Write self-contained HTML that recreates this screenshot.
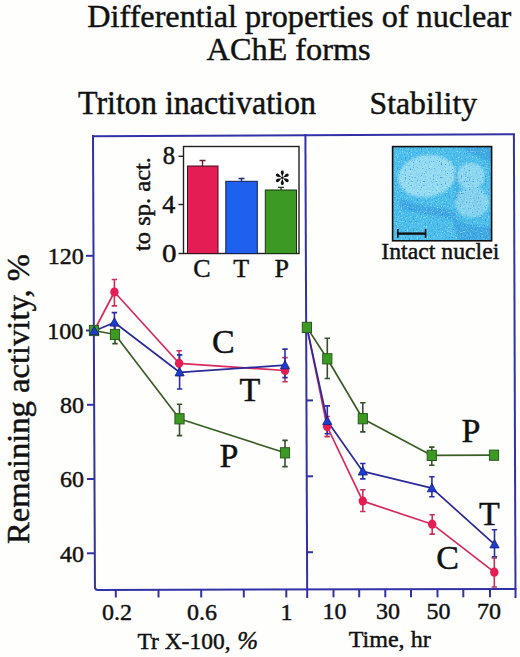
<!DOCTYPE html>
<html><head><meta charset="utf-8"><style>
html,body{margin:0;padding:0;background:#fefefd;}
svg{display:block;}
text{font-family:"Liberation Serif",serif;fill:#111;stroke:#111;stroke-width:0.45px;}
</style></head><body>
<svg width="520" height="657" viewBox="0 0 520 657">
<defs>
<filter id="noise" x="0" y="0" width="100%" height="100%">
<feTurbulence type="fractalNoise" baseFrequency="0.75" numOctaves="1" seed="3" result="n"/>
<feColorMatrix in="n" type="matrix" values="0 0 0 0 0  0 0 0 0 0  0 0 0 0 0  -5 0 0 0 2.0" result="d"/>
<feComposite in="SourceGraphic" in2="d" operator="in"/>
</filter>
<filter id="noise2" x="0" y="0" width="100%" height="100%">
<feTurbulence type="fractalNoise" baseFrequency="0.8" numOctaves="1" seed="11" result="n"/>
<feColorMatrix in="n" type="matrix" values="0 0 0 0 0  0 0 0 0 0  0 0 0 0 0  0 4 0 0 -2.1" result="d"/>
<feComposite in="SourceGraphic" in2="d" operator="in"/>
</filter>
<filter id="blur2"><feGaussianBlur stdDeviation="1.3"/></filter>
<clipPath id="mclip"><rect x="392" y="146" width="100" height="95"/></clipPath>
</defs>
<rect width="520" height="657" fill="#fefefd"/>

<!-- Titles -->
<text x="87.3" y="27" font-size="32.3" textLength="424" lengthAdjust="spacingAndGlyphs">Differential properties of nuclear</text>
<text x="206.6" y="60.3" font-size="32.5" textLength="164" lengthAdjust="spacingAndGlyphs">AChE forms</text>
<text x="78" y="114.3" font-size="33" textLength="238" lengthAdjust="spacingAndGlyphs">Triton inactivation</text>
<text x="369.6" y="113.8" font-size="32.5" textLength="107.5" lengthAdjust="spacingAndGlyphs">Stability</text>

<!-- Y axis title -->
<text transform="translate(29,544) rotate(-90)" x="0" y="0" font-size="32" textLength="290" lengthAdjust="spacingAndGlyphs">Remaining activity, %</text>

<!-- Frame -->
<g stroke="#3232a6" stroke-width="2" fill="none" stroke-linecap="square" stroke-linejoin="round">
<line x1="93" y1="136.2" x2="514" y2="134.3"/>
<path d="M93 136 L94.95 587 Q95 589.9 97.8 589.9 L515.5 589.1"/>
<line x1="513.9" y1="136" x2="515.5" y2="597"/>
<line x1="305.4" y1="135" x2="307.2" y2="597"/>
</g>
<!-- left y ticks -->
<g stroke="#3232a6" stroke-width="2">
<line x1="86" y1="255.8" x2="93" y2="255.8"/>
<line x1="86" y1="330.5" x2="93" y2="330.5"/>
<line x1="87" y1="404.8" x2="94" y2="404.8"/>
<line x1="87" y1="479" x2="94" y2="479"/>
<line x1="87" y1="553.3" x2="94.5" y2="553.3"/>
<!-- right panel y ticks (inward) -->
<line x1="306" y1="327" x2="312" y2="327"/>
<line x1="306.2" y1="400.4" x2="313" y2="400.4"/>
<line x1="306.5" y1="476.3" x2="313" y2="476.3"/>
<line x1="306.8" y1="552.2" x2="313" y2="552.2"/>
<!-- left x ticks -->
<line x1="115.8" y1="589.5" x2="115.8" y2="597.5"/>
<line x1="158.5" y1="589.5" x2="158.5" y2="597.5"/>
<line x1="201.2" y1="589.5" x2="201.2" y2="597.5"/>
<line x1="243.8" y1="589.3" x2="243.8" y2="597.5"/>
<line x1="286.3" y1="589.2" x2="286.3" y2="597.5"/>
<!-- right x ticks -->
<line x1="333.5" y1="589" x2="333.5" y2="597.3"/>
<line x1="359.2" y1="589" x2="359.2" y2="597.3"/>
<line x1="385.3" y1="589" x2="385.3" y2="597.3"/>
<line x1="411" y1="589" x2="411" y2="597.3"/>
<line x1="437.5" y1="589" x2="437.5" y2="597.3"/>
<line x1="463.3" y1="589" x2="463.3" y2="597.3"/>
<line x1="490" y1="589" x2="490" y2="597.3"/>
</g>

<!-- Y tick labels -->
<g font-size="24">
<text x="47.8" y="264">120</text>
<text x="47.3" y="338.8">100</text>
<text x="60" y="412.5">80</text>
<text x="60" y="487.2">60</text>
<text x="60" y="561.5">40</text>
<!-- X tick labels -->
<text x="102" y="619.6">0.2</text>
<text x="187" y="619.6">0.6</text>
<text x="280.5" y="619.6">1</text>
<text x="322.5" y="619.4">10</text>
<text x="376" y="619.4">30</text>
<text x="426.5" y="619.4">50</text>
<text x="477" y="619.4">70</text>
<!-- axis titles -->
<text x="137.5" y="648.5" textLength="93" lengthAdjust="spacingAndGlyphs">Tr X-100,</text><text x="237.3" y="648.5" font-style="italic" font-size="25">%</text>
<text x="348.7" y="647.3" textLength="82" lengthAdjust="spacingAndGlyphs">Time, hr</text>
</g>

<!-- Series labels -->
<g font-size="34">
<text x="212" y="352.7">C</text>
<text x="239.5" y="400.5">T</text>
<text x="219.5" y="466.7">P</text>
<text x="461.6" y="442.4">P</text>
<text x="479" y="524.5">T</text>
<text x="436.3" y="569.3">C</text>
</g>

<!-- Inset bar chart -->
<g>
<rect x="183.5" y="146.5" width="115.5" height="107" fill="#fff" stroke="#222" stroke-width="1.4"/>
<g stroke="#222" stroke-width="1.4">
<line x1="178.5" y1="156.3" x2="183.5" y2="156.3"/>
<line x1="178.5" y1="204.5" x2="183.5" y2="204.5"/>
<line x1="178.5" y1="253.5" x2="183.5" y2="253.5"/>
</g>
<rect x="187.5" y="166" width="30.5" height="87.5" fill="#e41d55" stroke="#3a1020" stroke-width="1"/>
<rect x="225.8" y="181.3" width="31.5" height="72.2" fill="#1f60ee" stroke="#102050" stroke-width="1"/>
<rect x="265.3" y="190" width="31.2" height="63.5" fill="#3c9a24" stroke="#1a3010" stroke-width="1"/>
<g stroke-width="1.4" fill="none">
<path d="M202.5 166 V160.5 M199.5 160.5 H205.5" stroke="#6a2030"/>
<path d="M241.5 181.3 V178.5 M238.5 178.5 H244.5" stroke="#202a60"/>
<path d="M281 190 V187.4 M278 187.4 H284" stroke="#2a3a20"/>
</g>
<g transform="translate(282.3,177.8)" fill="#111"><path transform="rotate(0)" d="M0,-1 L-0.9,-3.2 C-2.1,-5.2 -1.6,-7.2 0,-7.2 C1.6,-7.2 2.1,-5.2 0.9,-3.2 Z"/><path transform="rotate(60)" d="M0,-1 L-0.9,-3.2 C-2.1,-5.2 -1.6,-7.2 0,-7.2 C1.6,-7.2 2.1,-5.2 0.9,-3.2 Z"/><path transform="rotate(120)" d="M0,-1 L-0.9,-3.2 C-2.1,-5.2 -1.6,-7.2 0,-7.2 C1.6,-7.2 2.1,-5.2 0.9,-3.2 Z"/><path transform="rotate(180)" d="M0,-1 L-0.9,-3.2 C-2.1,-5.2 -1.6,-7.2 0,-7.2 C1.6,-7.2 2.1,-5.2 0.9,-3.2 Z"/><path transform="rotate(240)" d="M0,-1 L-0.9,-3.2 C-2.1,-5.2 -1.6,-7.2 0,-7.2 C1.6,-7.2 2.1,-5.2 0.9,-3.2 Z"/><path transform="rotate(300)" d="M0,-1 L-0.9,-3.2 C-2.1,-5.2 -1.6,-7.2 0,-7.2 C1.6,-7.2 2.1,-5.2 0.9,-3.2 Z"/><circle r="1.3"/></g>
<g font-size="25">
<text x="162.8" y="164" textLength="12.3" lengthAdjust="spacingAndGlyphs">8</text>
<text x="162.3" y="213.3" textLength="13" lengthAdjust="spacingAndGlyphs">4</text>
<text x="162" y="261.8" textLength="14.5" lengthAdjust="spacingAndGlyphs">0</text>
</g>
<g font-size="26">
<text x="193.2" y="277.2">C</text>
<text x="233.2" y="277.2">T</text>
<text x="274.6" y="277.2">P</text>
</g>
<text transform="translate(150,251) rotate(-90)" font-size="23" textLength="94" lengthAdjust="spacingAndGlyphs">to sp. act.</text>
</g>

<!-- Micrograph inset -->
<g>
<g clip-path="url(#mclip)">
<rect x="392" y="146" width="100" height="95" fill="#48bcea"/>
<g filter="url(#blur2)">
<path d="M455 146 L492 146 L492 165 C 480 158, 468 150, 455 146 Z" fill="#3aa8e4"/>
<path d="M400 198 C 420 208, 440 205, 455 212 L 458 222 C 440 215, 420 215, 400 208 Z" fill="#3aa6e2"/>
<path d="M452 215 C 462 225, 478 228, 492 226 L492 241 L458 241 Z" fill="#3aa6e2"/>
<ellipse cx="427" cy="176" rx="29" ry="21" fill="#92daf2" transform="rotate(-10 427 176)"/>
<ellipse cx="471" cy="176" rx="14" ry="13" fill="#8ad6f0"/>
<ellipse cx="472" cy="202" rx="17" ry="15.5" fill="#82d2ee"/>
<path d="M455 172 C 457 182, 458 190, 456 200" stroke="#3aa0e0" stroke-width="2" fill="none"/>
</g>
<rect x="392" y="146" width="100" height="95" fill="#2a86d2" filter="url(#noise)"/>
<rect x="392" y="146" width="100" height="95" fill="#c8f4fc" filter="url(#noise2)" opacity="0.6"/>
</g>
<rect x="392.6" y="146.6" width="99" height="94.2" fill="none" stroke="#111" stroke-width="1.6"/>
<line x1="397.3" y1="233.6" x2="426" y2="233.6" stroke="#111" stroke-width="2.4"/>
<g stroke="#111" stroke-width="1.6">
<line x1="397.8" y1="229" x2="397.8" y2="237.8"/>
<line x1="425.6" y1="229" x2="425.6" y2="237.8"/>
</g>
<text x="381.3" y="258.8" font-size="24" textLength="118" lengthAdjust="spacingAndGlyphs">Intact nuclei</text>
</g>

<!-- DATA START -->
<!-- left panel -->
<g stroke-width="1.6" fill="none"><g stroke="#33502a"><path d="M115 325.4 V343.6 M112.3 325.4 H117.7 M112.3 343.6 H117.7"/><path d="M179.5 404.2 V435.6 M176.8 404.2 H182.2 M176.8 435.6 H182.2"/><path d="M285 440.4 V466.6 M282.3 440.4 H287.7 M282.3 466.6 H287.7"/></g><g stroke="#c83058"><path d="M114.4 279.5 V305.9 M111.7 279.5 H117.1 M111.7 305.9 H117.1"/><path d="M179.1 350.7 V375.5 M176.4 350.7 H181.8 M176.4 375.5 H181.8"/><path d="M285 357.6 V381.7 M282.3 357.6 H287.7 M282.3 381.7 H287.7"/></g><g stroke="#2a2fa8"><path d="M114.4 312.6 V332.2 M111.7 312.6 H117.1 M111.7 332.2 H117.1"/><path d="M179.6 354.9 V389 M176.9 354.9 H182.3 M176.9 389 H182.3"/><path d="M285 349.1 V377.6 M282.3 349.1 H287.7 M282.3 377.6 H287.7"/></g></g>
<g fill="none" stroke-width="1.7" stroke-linejoin="round"><polyline points="94,330.5 115,334.5 179.5,418.8 285,452.8" stroke="#3a5e26"/><polyline points="94,331 114.4,292 179.1,363.3 285,370.5" stroke="#d82a5c"/><polyline points="94.2,331 114.4,322.5 179.6,372.3 285,365.2" stroke="#2a2a9a"/></g>
<g fill="#3c9a24" stroke="#2a5a1a" stroke-width="1"><rect x="89.4" y="325.4" width="9.2" height="10.2"/><rect x="110.4" y="329.4" width="9.2" height="10.2"/><rect x="174.9" y="413.7" width="9.2" height="10.2"/><rect x="280.4" y="447.7" width="9.2" height="10.2"/></g>
<g fill="#e41d55"><ellipse cx="114.4" cy="292" rx="4.2" ry="4.6"/><ellipse cx="179.1" cy="363.3" rx="4.2" ry="4.6"/><ellipse cx="285" cy="370.5" rx="4.2" ry="4.6"/></g>
<g fill="#1b3fcc" stroke="#151a80" stroke-width="0.8"><path d="M94.2 326.2 L98.8 334.6 L89.6 334.6 Z"/><path d="M114.4 317.7 L119.0 326.1 L109.8 326.1 Z"/><path d="M179.6 367.5 L184.2 375.9 L175.0 375.9 Z"/><path d="M285 360.4 L289.6 368.8 L280.4 368.8 Z"/></g>
<!-- right panel -->
<g stroke-width="1.6" fill="none"><g stroke="#33502a"><path d="M327.3 338.3 V378.5 M324.6 338.3 H330.0 M324.6 378.5 H330.0"/><path d="M362.8 402.8 V431.9 M360.1 402.8 H365.5 M360.1 431.9 H365.5"/><path d="M431.8 447.1 V465.2 M429.1 447.1 H434.5 M429.1 465.2 H434.5"/></g><g stroke="#c83058"><path d="M327.1 416.5 V436.6 M324.4 416.5 H329.8 M324.4 436.6 H329.8"/><path d="M362.8 489.8 V511.5 M360.1 489.8 H365.5 M360.1 511.5 H365.5"/><path d="M432.2 514.7 V534.1 M429.5 514.7 H434.9 M429.5 534.1 H434.9"/><path d="M494.3 558 V587 M491.6 558 H497.0 M491.6 587 H497.0"/></g><g stroke="#2a2fa8"><path d="M327.3 405.9 V433.8 M324.6 405.9 H330.0 M324.6 433.8 H330.0"/><path d="M362.8 463.5 V478.9 M360.1 463.5 H365.5 M360.1 478.9 H365.5"/><path d="M431.9 476.8 V496.7 M429.2 476.8 H434.6 M429.2 496.7 H434.6"/><path d="M494.5 529.7 V556.7 M491.8 529.7 H497.2 M491.8 556.7 H497.2"/></g></g>
<g fill="none" stroke-width="1.7" stroke-linejoin="round"><polyline points="306.9,327.4 327.3,358.8 362.8,418.7 431.8,455.4 494,455.2" stroke="#3a5e26"/><polyline points="306.9,327.4 327.1,426.5 362.8,501.1 432.2,524.2 494.3,572.2" stroke="#d82a5c"/><polyline points="306.9,327.4 327.3,421 362.8,471.4 431.9,488.2 494.5,544.3" stroke="#2a2a9a"/></g>
<g fill="#3c9a24" stroke="#2a5a1a" stroke-width="1"><rect x="302.3" y="322.3" width="9.2" height="10.2"/><rect x="322.7" y="353.7" width="9.2" height="10.2"/><rect x="358.2" y="413.6" width="9.2" height="10.2"/><rect x="427.2" y="450.3" width="9.2" height="10.2"/><rect x="489.4" y="450.1" width="9.2" height="10.2"/></g>
<g fill="#e41d55"><ellipse cx="327.1" cy="426.5" rx="4.2" ry="4.6"/><ellipse cx="362.8" cy="501.1" rx="4.2" ry="4.6"/><ellipse cx="432.2" cy="524.2" rx="4.2" ry="4.6"/><ellipse cx="494.3" cy="572.2" rx="4.2" ry="4.6"/></g>
<g fill="#1b3fcc" stroke="#151a80" stroke-width="0.8"><path d="M327.3 416.2 L331.9 424.6 L322.7 424.6 Z"/><path d="M362.8 466.6 L367.4 475.0 L358.2 475.0 Z"/><path d="M431.9 483.4 L436.5 491.8 L427.3 491.8 Z"/><path d="M494.5 539.5 L499.1 547.9 L489.9 547.9 Z"/></g>
<!-- DATA END -->
</svg>
</body></html>
